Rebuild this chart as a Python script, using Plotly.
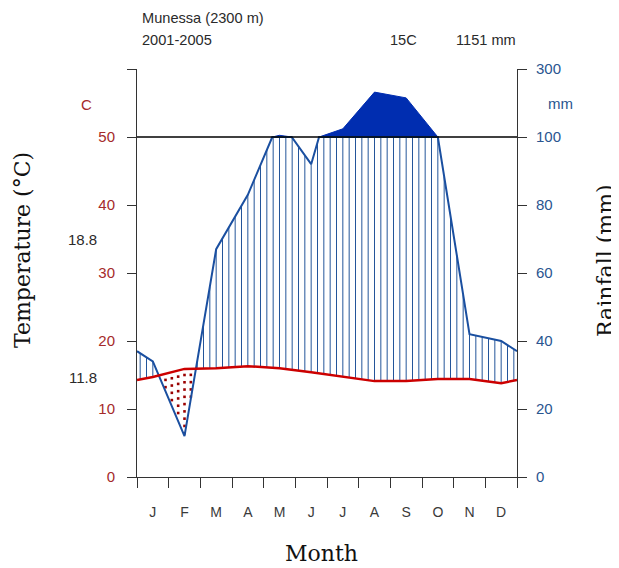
import numpy as np
import plotly.graph_objects as go

# ---------------- data ----------------
months = ["J", "F", "M", "A", "M", "J", "J", "A", "S", "O", "N", "D"]
temp_c = [14.7, 15.9, 16.0, 16.3, 16.0, 15.4, 14.7, 14.1, 14.1, 14.4, 14.4, 13.8]
rain_mm = [34, 12, 67, 83, 105, 92, 124, 232, 215, 100, 42, 40]
temp_tick_vals = [0, 10, 20, 30, 40, 50, 60]
temp_tick_text = ["0", "10", "20", "30", "40", "50", ""]
rain_tick_text = ["0", "20", "40", "60", "80", "100", "300"]
station = "Munessa (2300 m)"
period = "2001-2005"
mean_temp_label = "15C"
total_rain_label = "1151 mm"
warm_max_label = "18.8"
cold_min_label = "11.8"
P_LIMIT = 100.0

# ---------------- helpers ----------------
OFF = 8  # default page body margin
W, H = 619 - OFF, 568 - OFF
L, R, T, B = 137 - OFF, 102, 69 - OFF, 91
PW, PH = W - L - R, H - T - B


def pxx(x):
    return (x - OFF - L) / PW


def pxy(y):
    return (H - B - (y - OFF)) / PH


def scale(p):
    p = np.asarray(p, dtype=float)
    return np.where(p <= P_LIMIT, p / 2.0, P_LIMIT / 2.0 + (p - P_LIMIT) / 20.0)


n = len(months)
xn = np.concatenate([[0.0], np.arange(n) + 0.5, [float(n)]])
edge_p = (rain_mm[-1] + rain_mm[0]) / 2.0
edge_t = (temp_c[-1] + temp_c[0]) / 2.0
pn = np.concatenate([[edge_p], rain_mm, [edge_p]]).astype(float)
tn = np.concatenate([[edge_t], temp_c, [edge_t]]).astype(float)

# refine rain polyline with crossings of the 100 mm line
xs, ps = [xn[0]], [pn[0]]
for i in range(len(xn) - 1):
    p0, p1 = pn[i], pn[i + 1]
    if (p0 - P_LIMIT) * (p1 - P_LIMIT) < 0:
        f = (P_LIMIT - p0) / (p1 - p0)
        xs.append(xn[i] + f * (xn[i + 1] - xn[i]))
        ps.append(P_LIMIT)
    xs.append(xn[i + 1])
    ps.append(p1)
xs = np.array(xs)
ps = np.array(ps)

lower_y = scale(np.minimum(ps, P_LIMIT))

# super-wet polygons (rain > 100 mm)
poly_x, poly_y = [], []


def flush(run):
    global poly_x, poly_y
    if len(run) > 1 and max(r[1] for r in run) > P_LIMIT:
        rx = [r[0] for r in run]
        ry = list(scale([r[1] for r in run]))
        poly_x += rx + rx[::-1] + [None]
        poly_y += ry + [P_LIMIT / 2.0] * len(rx) + [None]


run = []
for xv, pv in zip(xs, ps):
    if pv >= P_LIMIT:
        run.append((xv, pv))
    else:
        flush(run)
        run = []
flush(run)

# hatching / dotting columns
xi = 0.1 + 0.2 * np.arange(60)
ri = scale(np.minimum(np.interp(xi, xs, ps), P_LIMIT))
ti = np.interp(xi, xn, tn)
hx, hy = [], []
dx, dy = [], []
for xv, rv, tv in zip(xi, ri, ti):
    if rv > tv:
        hx += [xv, xv, None]
        hy += [tv, rv, None]
    elif tv > rv:
        yv = tv - 0.9
        while yv > rv + 0.3:
            dx.append(xv)
            dy.append(yv)
            yv -= 1.07

# ---------------- figure ----------------
fig = go.Figure()

fig.add_trace(go.Scatter(x=[0, n], y=[P_LIMIT / 2.0] * 2, mode="lines",
                         line=dict(color="black", width=1.3), yaxis="y2",
                         hoverinfo="skip", showlegend=False))

fig.add_trace(go.Scatter(x=hx, y=hy, mode="lines",
                         line=dict(color="#24559a", width=1),
                         hoverinfo="skip", showlegend=False))

fig.add_trace(go.Scatter(x=dx, y=dy, mode="markers",
                         marker=dict(color="#9a0000", size=2.6, symbol="square"),
                         hoverinfo="skip", showlegend=False))

fig.add_trace(go.Scatter(x=poly_x, y=poly_y, mode="lines", fill="toself",
                         fillcolor="#002db0", line=dict(color="#002db0", width=1),
                         hoverinfo="skip", showlegend=False))

fig.add_trace(go.Scatter(x=xs, y=lower_y, mode="lines",
                         line=dict(color="#1a4fa0", width=2),
                         hoverinfo="skip", showlegend=False))

fig.add_trace(go.Scatter(x=xn, y=tn, mode="lines",
                         line=dict(color="#cc0000", width=2.5),
                         hoverinfo="skip", showlegend=False))

sans = "Liberation Sans, Arial, sans-serif"
serif = "DejaVu Serif, serif"
red_lab = "#a52a2a"
blue_lab = "#2a5590"
axcol = "#333333"
txt = "#2a2a2a"

fig.update_layout(
    width=W, height=H,
    margin=dict(l=L, r=R, t=T, b=B),
    plot_bgcolor="white", paper_bgcolor="white",
    showlegend=False,
    xaxis=dict(range=[0, n], tickvals=list(np.arange(n) + 0.5), ticktext=months,
               ticks="", showline=True, linecolor=axcol, linewidth=1,
               showgrid=False, zeroline=False, ticklabelstandoff=22,
               tickfont=dict(family=sans, size=14, color="#3a3a3a"),
               minor=dict(tickvals=list(range(n + 1)), ticks="outside",
                          ticklen=10, tickcolor=axcol, tickwidth=1, showgrid=False)),
    yaxis=dict(range=[0, 60], tickvals=temp_tick_vals, ticktext=temp_tick_text,
               ticks="outside", ticklen=9, tickcolor=axcol, showline=True,
               linecolor=axcol, linewidth=1, showgrid=False, zeroline=False,
               ticklabelstandoff=9,
               tickfont=dict(family=sans, size=15, color=red_lab)),
    yaxis2=dict(range=[0, 60], tickvals=temp_tick_vals, ticktext=rain_tick_text,
                overlaying="y", side="right", anchor="x",
                ticks="outside", ticklen=9, tickcolor=axcol, showline=True,
                linecolor=axcol, linewidth=1, showgrid=False, zeroline=False,
                ticklabelstandoff=6,
                tickfont=dict(family=sans, size=15, color=blue_lab)),
)

ann = []
ann.append(dict(x=pxx(140), y=pxy(18), text=station, xanchor="left", yanchor="middle",
                font=dict(family=sans, size=14.6, color=txt)))
ann.append(dict(x=pxx(140), y=pxy(40), text=period, xanchor="left", yanchor="middle",
                font=dict(family=sans, size=14.6, color=txt)))
ann.append(dict(x=pxx(403), y=pxy(40), text=mean_temp_label, xanchor="center", yanchor="middle",
                font=dict(family=sans, size=14.6, color=txt)))
ann.append(dict(x=pxx(518), y=pxy(40), text=total_rain_label, xanchor="right", yanchor="middle",
                font=dict(family=sans, size=14.6, color=txt)))
ann.append(dict(x=pxx(86), y=pxy(104), text="C", xanchor="center", yanchor="middle",
                font=dict(family=sans, size=15, color=red_lab)))
ann.append(dict(x=pxx(560), y=pxy(103), text="mm", xanchor="center", yanchor="middle",
                font=dict(family=sans, size=15, color=blue_lab)))
ann.append(dict(x=pxx(99), y=pxy(240), text=warm_max_label, xanchor="right", yanchor="middle",
                font=dict(family=sans, size=15, color=txt)))
ann.append(dict(x=pxx(99), y=pxy(377), text=cold_min_label, xanchor="right", yanchor="middle",
                font=dict(family=sans, size=15, color=txt)))
ann.append(dict(x=pxx(22), y=pxy(250), text="Temperature (°C)", textangle=-90,
                xanchor="center", yanchor="middle",
                font=dict(family=serif, size=22, color="#111")))
ann.append(dict(x=pxx(605), y=pxy(261), text="Rainfall (mm)", textangle=-90,
                xanchor="center", yanchor="middle",
                font=dict(family=serif, size=22, color="#111")))
ann.append(dict(x=pxx(321), y=pxy(553), text="Month", xanchor="center", yanchor="middle",
                font=dict(family=serif, size=22, color="#111")))
for a in ann:
    a.update(xref="paper", yref="paper", showarrow=False)
fig.update_layout(annotations=ann)

fig.write_html("out.html")
